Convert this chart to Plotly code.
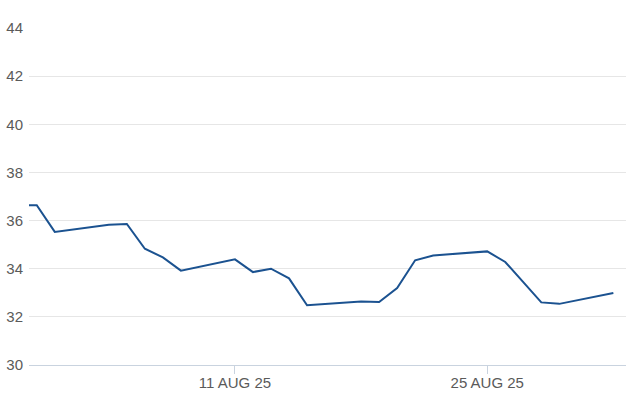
import plotly.graph_objects as go

dates = ["2025-07-30", "2025-07-31", "2025-08-01", "2025-08-04", "2025-08-05", "2025-08-06",
         "2025-08-07", "2025-08-08", "2025-08-11", "2025-08-12", "2025-08-13", "2025-08-14",
         "2025-08-15", "2025-08-18", "2025-08-19", "2025-08-20", "2025-08-21", "2025-08-22",
         "2025-08-25", "2025-08-26", "2025-08-27", "2025-08-28", "2025-08-29", "2025-09-01"]
values = [36.64, 36.64, 35.53, 35.83, 35.86, 34.83,
          34.47, 33.92, 34.39, 33.86, 34.0, 33.6,
          32.48, 32.64, 32.62, 33.2, 34.35, 34.55,
          34.72, 34.28, 33.44, 32.6, 32.54, 32.99]

y_ticks = [30, 32, 34, 36, 38, 40, 42, 44]
x_tickvals = ["2025-08-11", "2025-08-25"]
x_ticktext = ["11 AUG 25", "25 AUG 25"]

fig = go.Figure()
fig.add_trace(go.Scatter(
    x=dates, y=values, mode="lines",
    line=dict(color="#1b5290", width=2),
    hoverinfo="skip",
))

fig.update_layout(
    width=626, height=417,
    margin=dict(l=29, r=0, t=28, b=52, autoexpand=False),
    paper_bgcolor="white", plot_bgcolor="white",
    showlegend=False,
    font=dict(family="Liberation Sans, Arial, sans-serif", size=15, color="#5a5a5a"),
)
fig.update_xaxes(
    type="date",
    range=["2025-07-30 13:40", "2025-09-01 16:50"],
    tickvals=x_tickvals, ticktext=x_ticktext,
    showgrid=False,
    showline=True, linecolor="#c9d3df", linewidth=1,
    ticks="outside", ticklen=8, tickcolor="#c9d3df", tickwidth=1,
    ticklabelstandoff=-4,
    tickfont=dict(size=15, color="#5a5a5a"),
    zeroline=False,
)
fig.update_yaxes(
    range=[30, 44],
    tickvals=y_ticks,
    showgrid=True, gridcolor="#e6e6e6", gridwidth=1,
    showline=False, zeroline=False,
    ticks="", ticklabelstandoff=5,
    tickfont=dict(size=15, color="#5a5a5a"),
)

fig.write_html("out.html", config={"displayModeBar": False},
               post_script="document.body.style.margin='0';")
